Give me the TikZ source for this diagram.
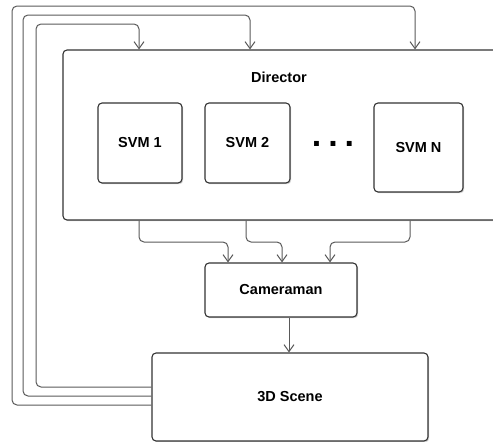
\documentclass[tikz,border=0pt]{standalone}
\usepackage{fontspec}
\setmainfont{Liberation Sans}
\usetikzlibrary{arrows.meta,shadows}
\begin{document}
\begin{tikzpicture}[x=1pt,y=-1pt,
  box/.style={draw=black!80, line width=1.1pt, rounded corners=4pt, fill=white,
    inner sep=0pt, drop shadow={shadow xshift=1.2pt, shadow yshift=-1.2pt, fill=black!30, opacity=0.6},
    font=\fontsize{14.5}{16}\selectfont\bfseries},
  lbl/.style={inner sep=0pt, font=\fontsize{14.5}{16}\selectfont\bfseries},
  conn/.style={draw=black!65, line width=1pt, rounded corners=5pt,
    -{Straight Barb[length=7pt,width=10pt,line width=1pt]}}
]
\useasboundingbox (0,0) rectangle (493,442);
\clip (0,0) rectangle (493,442);
% boxes
\node[box, minimum width=460pt, minimum height=170pt] (dir) at (293,135) {};
\node[lbl] (dirlabel) at (279,77) {Director};
\node[box, minimum width=84pt, minimum height=80pt] (s1) at (140,143) {SVM 1};
\node[box, minimum width=85pt, minimum height=80pt] (s2) at (247.5,143) {SVM 2};
\node[box, minimum width=89pt, minimum height=89pt] (sn) at (418.5,147.5) {SVM N};
\node[inner sep=0pt, font=\fontsize{34}{34}\selectfont\bfseries] (dots) at (333,144) {.\hspace{7pt}.\hspace{7pt}.};
\node[box, minimum width=152pt, minimum height=54pt] (cam) at (281,290) {Cameraman};
\node[box, minimum width=276pt, minimum height=88pt] (scene) at (290,397) {3D Scene};
% feedback loops
\draw[conn] (scene.west |- 0,387) -- (36,387) -- (36,24) -- (139,24) -- (dir.north -| 139,0);
\draw[conn] (scene.west |- 0,396) -- (23,396) -- (23,15) -- (250,15) -- (dir.north -| 250,0);
\draw[conn] (scene.west |- 0,405) -- (12,405) -- (12,6) -- (415,6) -- (dir.north -| 415,0);
% director to cameraman
\draw[conn] (dir.south -| 139,0) -- (139,242) -- (228,242) -- (cam.north -| 228,0);
\draw[conn] (dir.south -| 246,0) -- (246,242) -- (282,242) -- (cam.north -| 282,0);
\draw[conn] (dir.south -| 410,0) -- (410,242) -- (330,242) -- (cam.north -| 330,0);
% cameraman to scene
\draw[conn] (cam.south -| 289,0) -- (scene.north -| 289,0);
\end{tikzpicture}
\end{document}
